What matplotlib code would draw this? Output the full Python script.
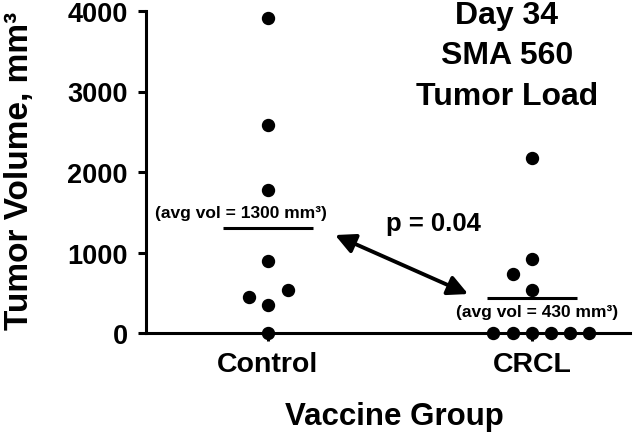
import numpy as np
import matplotlib
matplotlib.use('Agg')
import matplotlib.pyplot as plt

plt.rcParams['font.family'] = ['Liberation Sans', 'DejaVu Sans']
plt.rcParams['font.weight'] = 'bold'

# values (mm^3)
groups = ['Control', 'CRCL']
control_vol = [3910, 2580, 1780, 890, 530, 450, 350, 0]
crcl_vol = [2170, 920, 730, 530, 0, 0, 0, 0, 0, 0]
group_means = [1300, 430]
p_value = 0.04

# horizontal spread of the dots so they don't overlap
control_dx = [0, 0, 0, 0, 0.076, -0.072, 0, 0]
crcl_dx = [0, 0, -0.072, 0, -0.148, -0.072, 0, 0.072, 0.144, 0.216]

fig = plt.figure(figsize=(6.4, 4.39), dpi=100)
ax = fig.add_axes([146 / 640, 105 / 439, (630 - 146) / 640, 322 / 439])

pos = [1, 2]
ax.scatter(np.array(control_dx) + pos[0], control_vol, s=74, color='black', clip_on=False, zorder=3)
ax.scatter(np.array(crcl_dx) + pos[1], crcl_vol, s=74, color='black', clip_on=False, zorder=3)

for p, m in zip(pos, group_means):
    ax.hlines(m, p - 0.17, p + 0.17, color='black', lw=2.2)

ax.text(0.898, 1503, f'(avg vol = {group_means[0]} mm³)', ha='center', va='center', fontsize=12.5, fontweight='bold')
ax.text(2.02, 261, f'(avg vol = {group_means[1]} mm³)', ha='center', va='center', fontsize=12.5, fontweight='bold')
ax.text(1.447, 1366, f'p = {p_value}', ha='left', va='center', fontsize=18.5, fontweight='bold')
ax.annotate('', xy=(1.254, 1217), xytext=(1.758, 484),
            arrowprops=dict(arrowstyle='<|-|>', color='black', lw=2.8, mutation_scale=30, shrinkA=0, shrinkB=0))

# three title lines, each placed by itself
title_lines = ['Day 34', 'SMA 560', 'Tumor Load']
for line, yv in zip(title_lines, [3950, 3450, 2940]):
    ax.text(1.905, yv, line, ha='center', va='center', fontsize=23, fontweight='bold')

ax.set_xlim(0.538, 2.371)
ax.set_ylim(0, 4000)
ax.set_xticks(pos)
ax.set_xticklabels(groups, fontsize=20.5, fontweight='bold')
ax.set_yticks([0, 1000, 2000, 3000, 4000])
ax.set_yticklabels(['0', '1000', '2000', '3000', '4000'], fontsize=19.5, fontweight='bold')
ax.tick_params(axis='both', direction='out', length=6, width=2.2, pad=7)

for s in ['top', 'right']:
    ax.spines[s].set_visible(False)
for s in ['left', 'bottom']:
    ax.spines[s].set_linewidth(2.2)

fig.text(20 / 640, 1 - 171 / 439, 'Tumor Volume, mm³', rotation=90, ha='center', va='center',
         fontsize=24, fontweight='bold')
fig.text(394 / 640, 1 - 417 / 439, 'Vaccine Group', ha='center', va='center', fontsize=22.5, fontweight='bold')

fig.savefig('out.png', dpi=100)
